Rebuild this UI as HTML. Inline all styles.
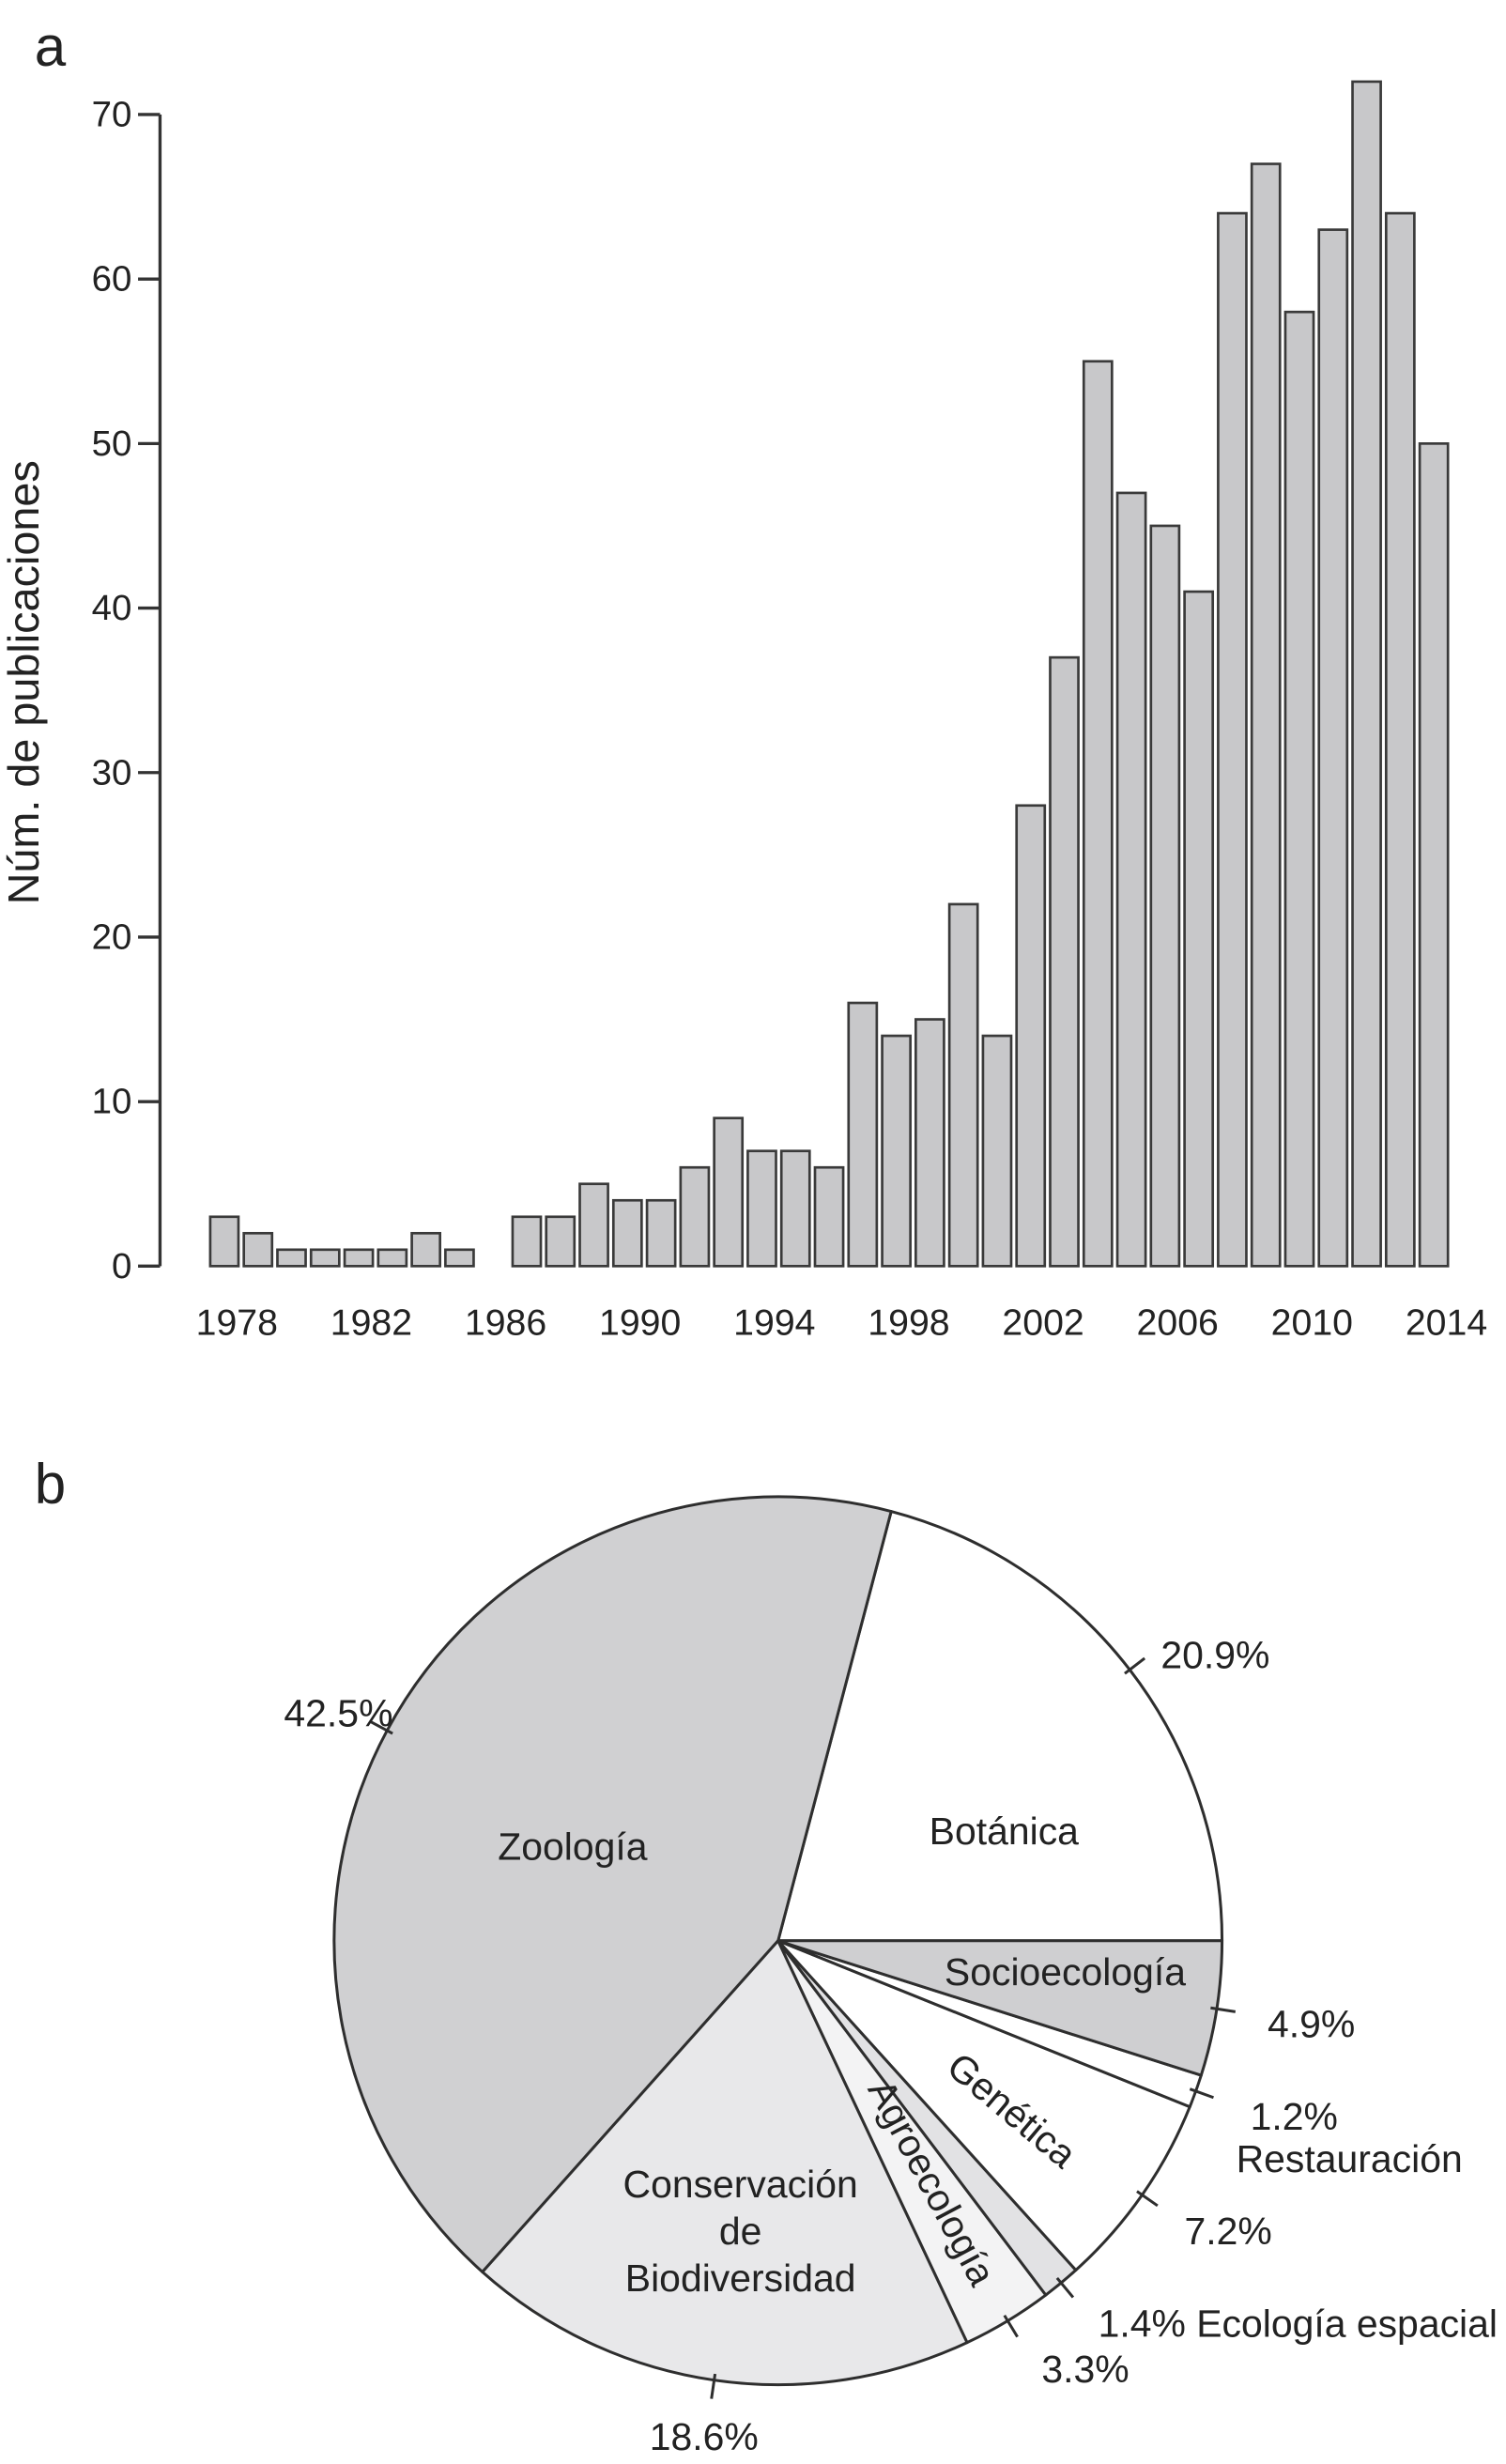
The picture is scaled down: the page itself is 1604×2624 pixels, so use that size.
<!DOCTYPE html>
<html><head><meta charset="utf-8"><style>
html,body{margin:0;padding:0;background:#fff}
svg{display:block}
text{font-family:"Liberation Sans",sans-serif;fill:#222}
</style></head><body>
<svg id="fig" width="1604" height="2624" viewBox="0 0 960 1570.5" xmlns="http://www.w3.org/2000/svg">
<text x="22" y="42" font-size="36">a</text>
<g id="barchart"></g>
<text x="22" y="958" font-size="36">b</text>
<g id="piechart"></g>
</svg>
<script>
const years = [1978,1979,1980,1981,1982,1983,1984,1985,1986,1987,1988,1989,1990,1991,1992,1993,1994,1995,1996,1997,1998,1999,2000,2001,2002,2003,2004,2005,2006,2007,2008,2009,2010,2011,2012,2013,2014];
const counts = [3,2,1,1,1,1,2,1,0,3,3,5,4,4,6,9,7,7,6,16,14,15,22,14,28,37,55,47,45,41,64,67,58,63,72,64,50];
const yTicks = [0,10,20,30,40,50,60,70];
const xTickLabels = [1978,1982,1986,1990,1994,1998,2002,2006,2010,2014];

const pieLabels = ["Botánica","Zoología","Conservación de Biodiversidad","Agroecología","Ecología espacial","Genética","Restauración","Socioecología"];
const pieValues = [20.9,42.5,18.6,3.3,1.4,7.2,1.2,4.9];
const pieColors = ["#ffffff","#d0d0d2","#e8e8ea","#f3f3f4","#e2e2e4","#ffffff","#ffffff","#cfcfd1"];

const NS="http://www.w3.org/2000/svg";
function mk(tag,attrs,parent){const e=document.createElementNS(NS,tag);for(const k in attrs)e.setAttribute(k,attrs[k]);parent.appendChild(e);return e;}

const bc=document.getElementById('barchart');
const y0=807,y70=73,axX=102;
const yS=v=>y0-(v/70)*(y0-y70);
const firstC=143,lastC=914,step=(lastC-firstC)/(years.length-1),bw=18;
const xS=yr=>firstC+(yr-years[0])*step;
let ax=mk('line',{x1:axX,y1:yS(0),x2:axX,y2:yS(70),stroke:'#333','stroke-width':2},bc);


yTicks.forEach(t=>{
  const l=mk('line',{x1:88,y1:yS(t),x2:axX,y2:yS(t),stroke:'#333','stroke-width':2},bc);
  
  
  const tx=mk('text',{x:84,y:yS(t),'font-size':23,'text-anchor':'end','dominant-baseline':'central'},bc);
  tx.textContent=t;
  
  
});
years.forEach((yr,i)=>{
  const v=counts[i];
  const r=mk('rect',{x:xS(yr)-bw/2,y:yS(v),width:bw,height:yS(0)-yS(v),fill:'#c8c8ca',stroke:'#3a3a3a','stroke-width':1.6},bc);
  
  
});
xTickLabels.forEach(yr=>{
  const tx=mk('text',{x:xS(yr)+8,y:843,'font-size':23.5,'text-anchor':'middle','dominant-baseline':'central'},bc);
  tx.textContent=yr;
  
  
});
const yl=mk('text',{x:0,y:0,'font-size':28,'text-anchor':'middle','dominant-baseline':'central',transform:'translate(15,435) rotate(-90)'},bc);
yl.textContent='Núm. de publicaciones';



const pc=document.getElementById('piechart');
const cx=496,cy=1237,R=283;
const pt=(deg,r)=>[cx+r*Math.cos(deg*Math.PI/180),cy-r*Math.sin(deg*Math.PI/180)];
let start=0;
const mids=[];
pieValues.forEach((v,i)=>{
  const sweep=v/100*360, end=start+sweep;
  const [x1,y1]=pt(start,R),[x2,y2]=pt(end,R);
  const large=sweep>180?1:0;
  const p=mk('path',{d:`M${cx},${cy} L${x1},${y1} A${R},${R} 0 ${large} 0 ${x2},${y2} Z`,fill:pieColors[i],stroke:'#2e2e2e','stroke-width':1.8,'stroke-linejoin':'round'},pc);
  
  
  mids.push(start+sweep/2);
  start=end;
});
mids.forEach((m,i)=>{
  const [a,b]=pt(m,R-4),[c,d]=pt(m,R+12);
  const l=mk('line',{x1:a,y1:b,x2:c,y2:d,stroke:'#2e2e2e','stroke-width':1.8},pc);
  
  
});
function T(x,y,str,name,anchor,rot){
  const t=mk('text',{x:x,y:y,'font-size':24.5,'text-anchor':anchor||'start','dominant-baseline':'central'},pc);
  if(rot!==undefined)t.setAttribute('transform',`rotate(${rot} ${x} ${y})`);
  t.textContent=str;
  
  
}
T(740,1055,pieValues[0]+'%','pct-botanica');
T(181,1092,pieValues[1]+'%','pct-zoologia');
T(414,1553,pieValues[2]+'%','pct-conservacion');
T(664,1510,pieValues[3]+'%','pct-agroecologia');
T(700,1481,pieValues[4]+'% '+pieLabels[4],'pct-ecologia-espacial');
T(755,1422,pieValues[5]+'%','pct-genetica');
T(797,1349,pieValues[6]+'%','pct-restauracion');
T(788,1376,pieLabels[6],'label-restauracion');
T(808,1290,pieValues[7]+'%','pct-socioecologia');
T(365,1177,'Zoología','label-zoologia','middle');
T(640,1167,'Botánica','label-botanica','middle');
T(679,1257,'Socioecología','label-socioecologia','middle');
T(472,1392,'Conservación','label-conservacion','middle');
T(472,1422,'de','label-conservacion-de','middle');
T(472,1452,'Biodiversidad','label-biodiversidad','middle');
T(645,1345,'Genética','label-genetica','middle',40);
T(594,1391,'Agroecología','label-agroecologia','middle',62);
</script>
</body></html>
